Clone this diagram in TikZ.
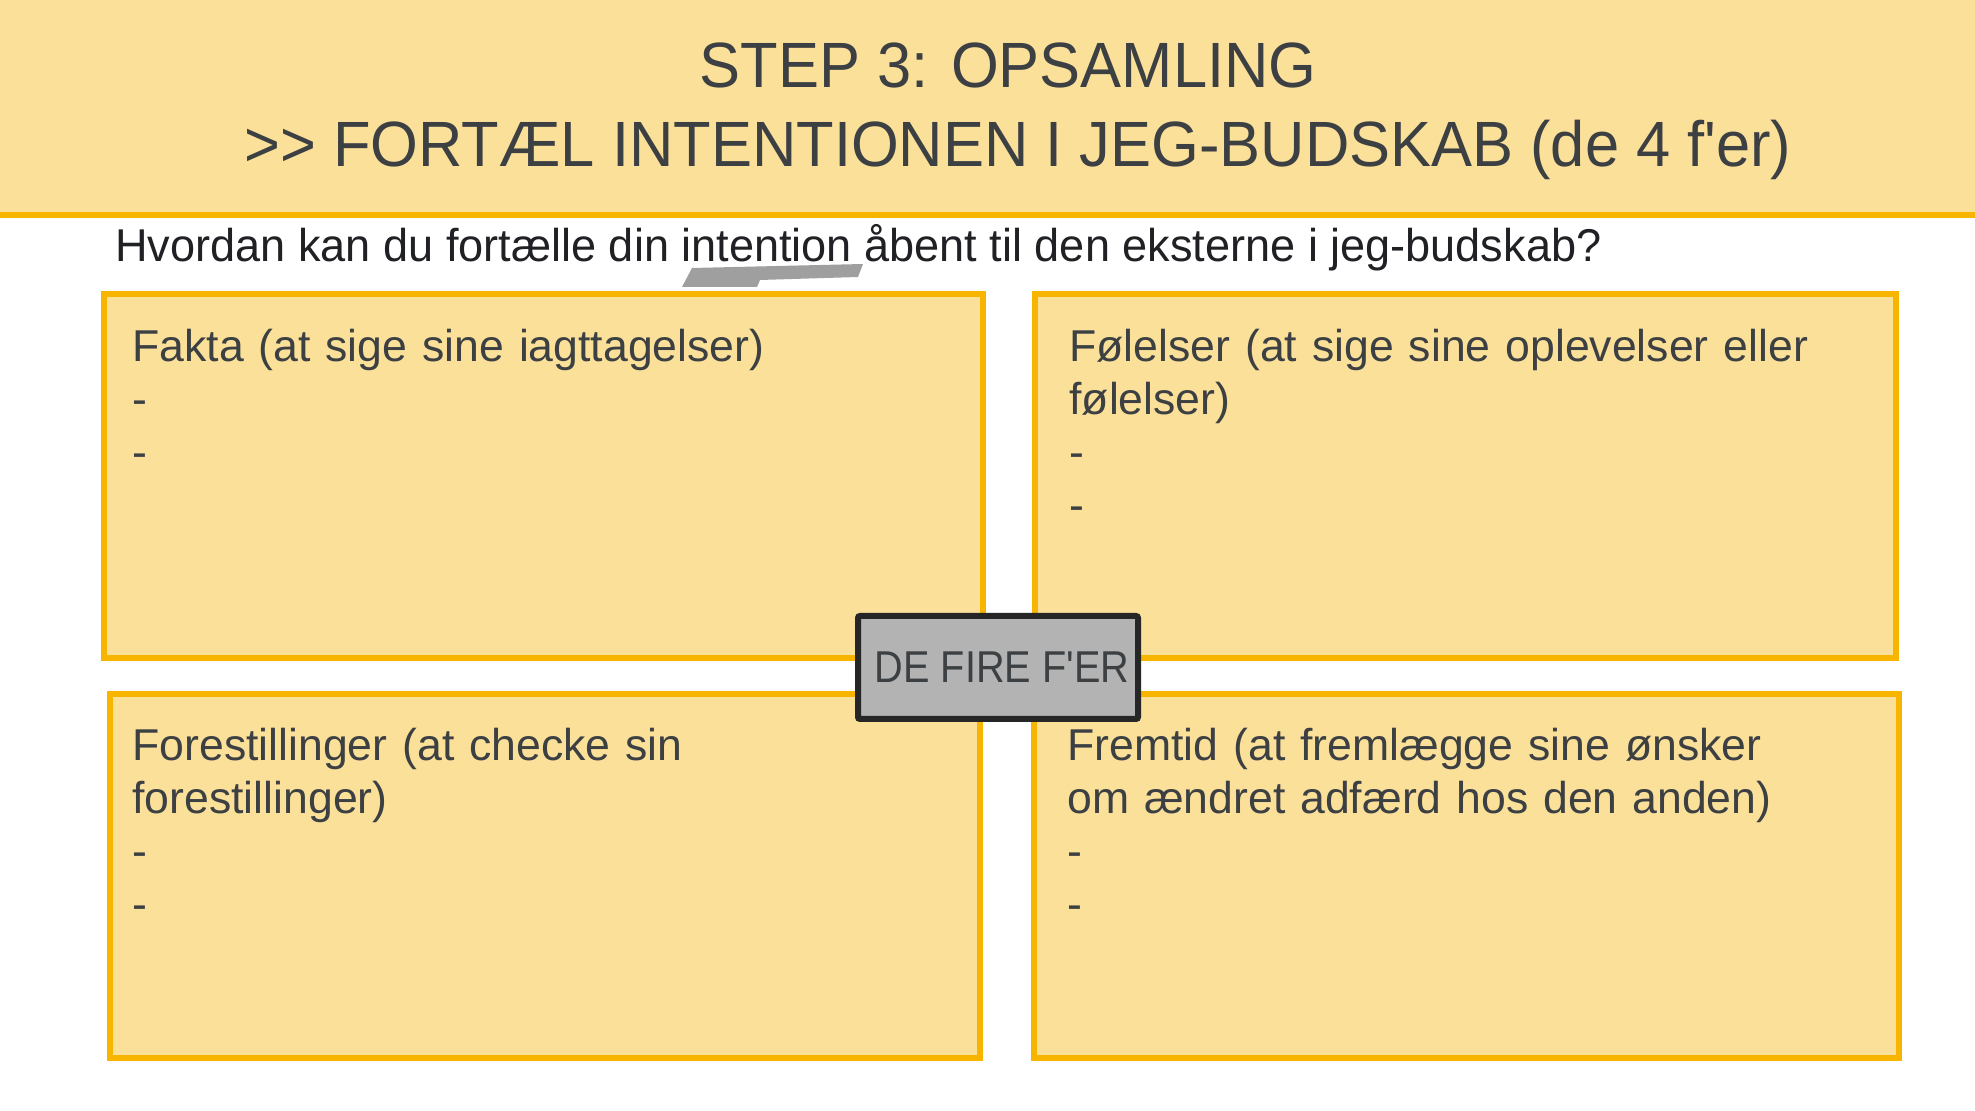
\documentclass[tikz,border=0pt]{standalone}
\usepackage{fontspec}
\setmainfont{Liberation Sans}[Ligatures=TeXOff]
\newfontfamily\titlefont{Liberation Sans}[Ligatures=TeXOff, FakeStretch=0.96]
\newfontfamily\questfont{Liberation Sans}[Ligatures=TeXOff, FakeStretch=0.98]
\newfontfamily\badgefont{Liberation Sans}[Ligatures=TeXOff, FakeStretch=0.89]
\definecolor{bandyellow}{HTML}{FBE09A}
\definecolor{lineorange}{HTML}{F7B500}
\definecolor{inkgray}{HTML}{3C4043}
\definecolor{inkdark}{HTML}{202124}
\definecolor{badgegray}{HTML}{B3B3B3}
\definecolor{badgeframe}{HTML}{262626}
\begin{document}
\begin{tikzpicture}[x=0.5pt,y=-0.5pt]
    % ===== PARAMETERS =====
    \pgfmathsetmacro{\W}{1975}   % total width (px)
    \pgfmathsetmacro{\H}{1111}   % total height (px)
    \pgfmathsetmacro{\HB}{212}   % header band height
    \pgfmathsetmacro{\LW}{3}     % line width in pt

    % ===== STYLES =====
    \tikzset{
        quadbox/.style={fill=bandyellow, draw=lineorange, line width=\LW pt},
        boxtext/.style={
            anchor=base west, align=left, inner sep=0pt, text width=400pt,
            font=\fontsize{22.3pt}{26.35pt}\selectfont,
            text=inkgray                   % text color
        },
        titletext/.style={
            anchor=base, inner sep=0pt,
            font=\titlefont\fontsize{32pt}{38pt}\selectfont, text=inkgray
        }
    }

    \useasboundingbox (0,0) rectangle (\W,\H);
    \fill[white] (0,0) rectangle (\W,\H);

    % ===== HEADER =====
    \fill[bandyellow] (0,0) rectangle (\W,\HB);
    \draw[lineorange, line width=\LW pt] (0,\HB+3) -- (\W,\HB+3);
    \node[titletext] (step) at (1008,88) {STEP 3: OPSAMLING};
    \node[titletext] (tell) at (1018,167) {>{}> FORTÆL INTENTIONEN I JEG-BUDSKAB (de 4 f'er)};

    % Question line with scribble under "intention"
    \fill[gray, opacity=0.75] (682,287) -- (692,268) -- (863,264) -- (858,277)
        -- (760,280) -- (757,287) -- cycle;
    \node[anchor=base west, inner sep=0pt, text=inkdark,
        font=\questfont\fontsize{23pt}{28pt}\selectfont] (question) at (115,262)
        {Hvordan kan du fortælle din intention åbent til den eksterne i jeg-budskab?};

    % ===== THE FOUR BOXES =====
    \draw[quadbox] (104,294.5) rectangle (983,658.5);
    \draw[quadbox] (1034.5,294.5) rectangle (1896,658.5);
    \draw[quadbox] (109.5,694) rectangle (980,1058);
    \draw[quadbox] (1034,694) rectangle (1899,1058);

    % ===== TEXT INSIDE BOXES =====
    \node[boxtext] (fakta) at (132,362) {Fakta (at sige sine iagttagelser)\\-\\-};
    \node[boxtext] (folelser) at (1069,362) {Følelser (at sige sine oplevelser eller\\følelser)\\-\\-};
    \node[boxtext] (forest) at (132,761) {Forestillinger (at checke sin\\forestillinger)\\-\\-};
    \node[boxtext] (fremtid) at (1067,761) {Fremtid (at fremlægge sine ønsker\\om ændret adfærd hos den anden)\\-\\-};

    % ===== CENTRE BADGE =====
    \node[draw=badgeframe, fill=badgegray, line width=\LW pt, rounded corners=1pt,
        minimum width=140pt, minimum height=51.5pt, inner sep=0pt, text=inkgray,
        font=\badgefont\fontsize{22.3pt}{26pt}\selectfont] (fireF) at (998,667.5)
        {\hspace{4pt}DE FIRE F'ER};
\end{tikzpicture}
\end{document}
